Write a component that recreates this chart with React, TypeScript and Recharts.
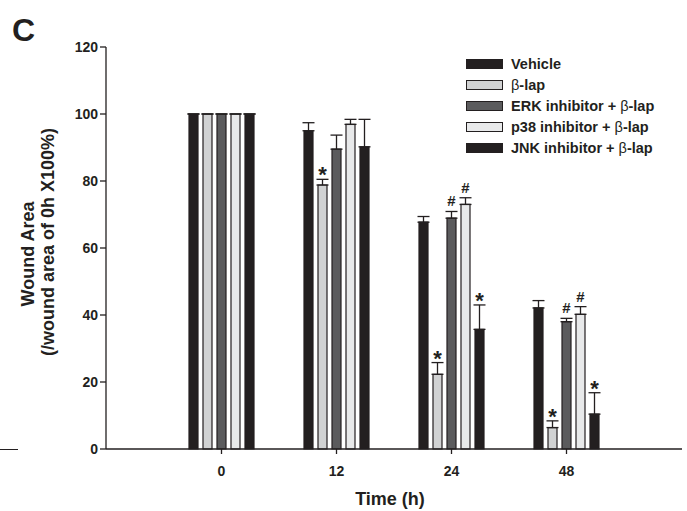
import React from "react";
import { BarChart, Bar, XAxis, YAxis, ErrorBar, Legend, Label } from "recharts";

// time points (h)
const times = ["0", "12", "24", "48"];

// wound area (% of 0h)
const vehicle = [100, 95.0, 67.7, 42.1];
const betaLap = [100, 78.8, 22.3, 6.4];
const erkBeta = [100, 89.5, 68.9, 38.0];
const p38Beta = [100, 96.9, 73.0, 40.2];
const jnkBeta = [100, 90.2, 35.7, 10.4];

// upper error (SD)
const vehicleErr = [0, 2.4, 1.7, 2.2];
const betaLapErr = [0, 1.7, 3.5, 2.0];
const erkBetaErr = [0, 4.2, 2.0, 1.0];
const p38BetaErr = [0, 1.5, 2.0, 2.3];
const jnkBetaErr = [0, 8.2, 7.3, 6.4];

// significance marks
const betaLapMark = ["", "*", "*", "*"];
const erkBetaMark = ["", "", "#", "#"];
const p38BetaMark = ["", "", "#", "#"];
const jnkBetaMark = ["", "", "*", "*"];

const yTicks = [0, 20, 40, 60, 80, 100, 120];

const INK = "#231f20";
const FONT = "'Liberation Sans', Arial, sans-serif";

const series = [
  { key: "vehicle", prefix: "Vehicle", beta: false, fill: INK, values: vehicle, err: vehicleErr, marks: null },
  { key: "betaLap", prefix: "", beta: true, fill: "#d1d2d3", values: betaLap, err: betaLapErr, marks: betaLapMark },
  { key: "erkBeta", prefix: "ERK inhibitor + ", beta: true, fill: "#5b5b5d", values: erkBeta, err: erkBetaErr, marks: erkBetaMark },
  { key: "p38Beta", prefix: "p38 inhibitor + ", beta: true, fill: "#e8e9ea", values: p38Beta, err: p38BetaErr, marks: p38BetaMark },
  { key: "jnkBeta", prefix: "JNK inhibitor + ", beta: true, fill: INK, values: jnkBeta, err: jnkBetaErr, marks: jnkBetaMark },
];

const data = times.map((t, i) => {
  const row: any = { time: t };
  series.forEach((s) => {
    row[s.key] = s.values[i];
    row[s.key + "Err"] = [0, s.err[i]];
  });
  return row;
});

function markLabel(values: number[], err: number[], marks: string[]) {
  return (props: any) => {
    const { index } = props;
    const vb = props.viewBox || props;
    const x = Number(vb.x ?? props.x);
    const y = Number(vb.y ?? props.y);
    const w = Number(vb.width ?? props.width);
    const h = Number(vb.height ?? props.height);
    const m = marks[index];
    if (!m) return null;
    const pxPerUnit = h / values[index];
    const top = y - err[index] * pxPerUnit;
    return (
      <text
        x={x + w / 2}
        y={m === "*" ? top + 3 : top - 5}
        textAnchor="middle"
        fontFamily={FONT}
        fontWeight="bold"
        fontSize={m === "*" ? 22 : 15}
        fill={INK}
      >
        {m}
      </text>
    );
  };
}

const renderLegend = () => (
  <div style={{ fontFamily: FONT, fontWeight: "bold", fontSize: 14.5, color: INK }}>
    {series.map((s) => (
      <div key={s.key} style={{ display: "flex", alignItems: "center", height: 21.2 }}>
        <span
          style={{
            display: "inline-block",
            width: 35,
            height: 8,
            background: s.fill,
            border: `1px solid ${INK}`,
            marginRight: 8,
          }}
        />
        <span>
          {s.prefix}
          {s.beta ? <span style={{ fontWeight: "normal" }}>β</span> : null}
          {s.beta ? "-lap" : null}
        </span>
      </div>
    ))}
  </div>
);

const YTitle = (props: any) => {
  const vb = props.viewBox;
  const cy = vb.y + vb.height / 2;
  return (
    <g fontFamily={FONT} fontWeight="bold" fontSize={18} fill={INK}>
      <text x={34} y={cy + 6} transform={`rotate(-90, 34, ${cy + 6})`} textAnchor="middle">
        Wound Area
      </text>
      <text x={54} y={cy - 6} transform={`rotate(-90, 54, ${cy - 6})`} textAnchor="middle">
        (/wound area of 0h X100%)
      </text>
    </g>
  );
};

const XTitle = (props: any) => {
  const vb = props.viewBox;
  return (
    <text
      x={vb.x + vb.width / 2 - 4}
      y={505}
      textAnchor="middle"
      fontFamily={FONT}
      fontWeight="bold"
      fontSize={18}
      fill={INK}
    >
      Time (h)
    </text>
  );
};

export default function App() {
  const tickStyle = { fontFamily: FONT, fontWeight: "bold", fontSize: 14, fill: INK };
  return (
    <div style={{ position: "absolute", left: 0, top: 0, width: 687, height: 511, background: "#fff" }}>
      <div
        style={{
          position: "absolute",
          left: 12,
          top: 14,
          fontFamily: FONT,
          fontWeight: "bold",
          fontSize: 32,
          color: INK,
          lineHeight: 1,
        }}
      >
        C
      </div>
      <div style={{ position: "absolute", left: 0, top: 449, width: 18, height: 0, borderTop: `1.3px solid ${INK}` }} />
      <BarChart
        width={687}
        height={511}
        data={data}
        margin={{ top: 47, right: 5, bottom: 32, left: 66 }}
        barSize={9}
        barGap={5}
      >
        <XAxis
          dataKey="time"
          height={30}
          padding={{ left: 58, right: 58 }}
          axisLine={{ stroke: INK, strokeWidth: 1.3 }}
          tickLine={{ stroke: INK, strokeWidth: 1.3 }}
          tickSize={5}
          tickMargin={12}
          tick={tickStyle}
        >
          <Label content={<XTitle />} />
        </XAxis>
        <YAxis
          width={40}
          domain={[0, 120]}
          ticks={yTicks}
          interval={0}
          axisLine={{ stroke: INK, strokeWidth: 1.3 }}
          tickLine={{ stroke: INK, strokeWidth: 1.3 }}
          tickSize={6}
          tick={tickStyle}
        >
          <Label content={<YTitle />} />
        </YAxis>
        <Legend
          layout="vertical"
          align="center"
          verticalAlign="middle"
          content={renderLegend}
          wrapperStyle={{ position: "absolute", left: 466, top: 53, width: 220, height: 110 }}
        />
        {series.map((s) => (
          <Bar
            key={s.key}
            dataKey={s.key}
            fill={s.fill}
            stroke={INK}
            strokeWidth={1.2}
            isAnimationActive={false}
            label={s.marks ? markLabel(s.values, s.err, s.marks) : undefined}
          >
            <ErrorBar
              dataKey={s.key + "Err"}
              width={6}
              stroke={INK}
              strokeWidth={1.3}
              direction="y"
              isAnimationActive={false}
            />
          </Bar>
        ))}
      </BarChart>
    </div>
  );
}
